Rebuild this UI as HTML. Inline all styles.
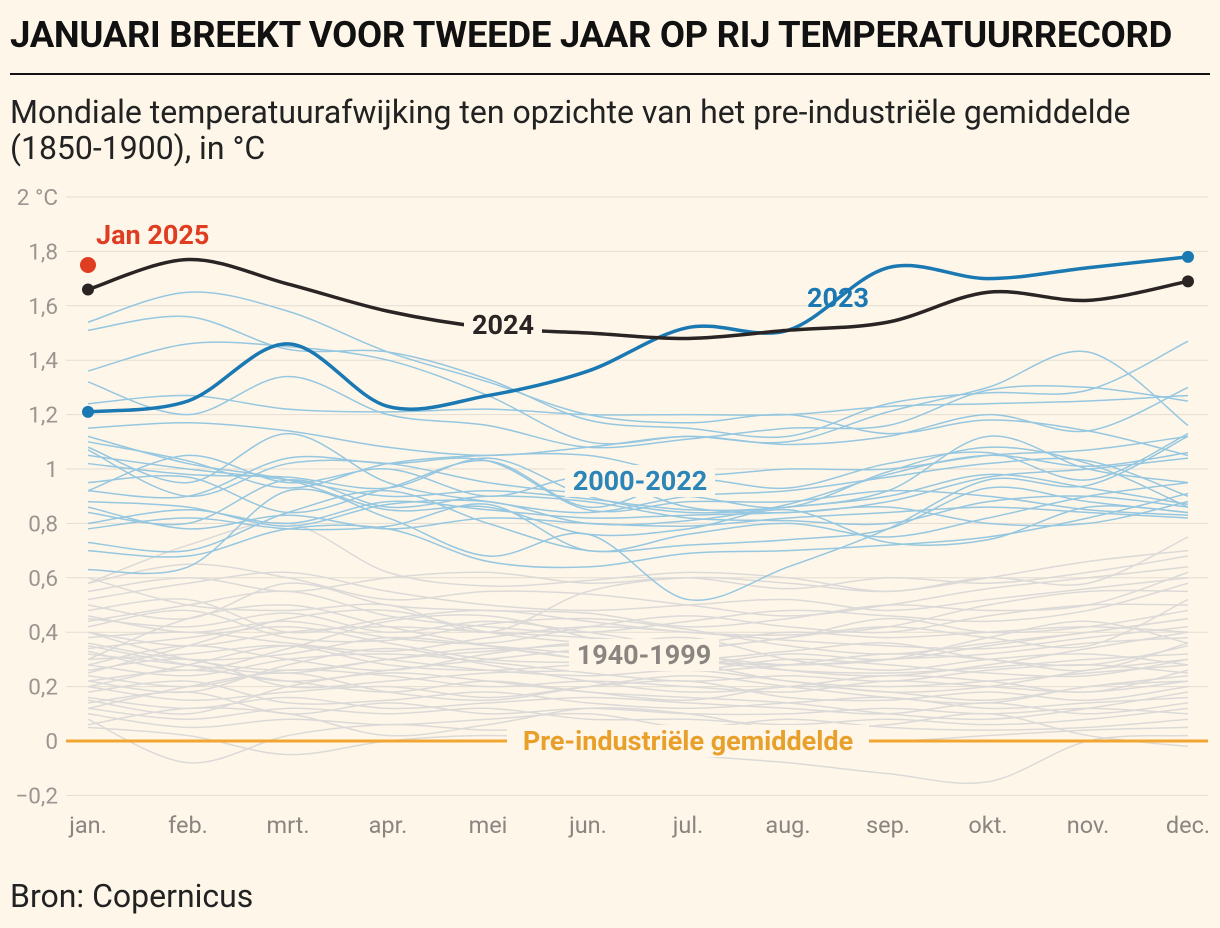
<!DOCTYPE html>
<html><head><meta charset="utf-8">
<style>
body{margin:0;background:#fef6e9;font-family:"Roboto","Liberation Sans",sans-serif;}
#wrap{position:relative;width:1220px;height:928px;overflow:hidden;background:#fef6e9}
h1{position:absolute;left:10px;top:13px;margin:0;font-size:36.5px;font-weight:700;color:#111;letter-spacing:-0.3px;white-space:nowrap}
#rule{position:absolute;left:10px;top:73px;width:1200px;height:2px;background:#111}
#sub{position:absolute;left:10px;top:94px;margin:0;font-size:32px;line-height:36px;color:#222;width:1200px}
#src{position:absolute;left:10px;top:877px;font-size:32px;color:#222}
svg{position:absolute;left:0;top:0}
</style></head><body>
<div id="wrap">
<h1>JANUARI BREEKT VOOR TWEEDE JAAR OP RIJ TEMPERATUURRECORD</h1>
<div id="rule"></div>
<p id="sub">Mondiale temperatuurafwijking ten opzichte van het pre-industriële gemiddelde (1850-1900), in °C</p>
<svg id="chart" width="1220" height="928"></svg>
<div id="src">Bron: Copernicus</div>
</div>
<script>
const months=["jan.","feb.","mrt.","apr.","mei","jun.","jul.","aug.","sep.","okt.","nov.","dec."];
const yTicks=[2,1.8,1.6,1.4,1.2,1,0.8,0.6,0.4,0.2,0,-0.2];
const s2024=[1.66,1.77,1.68,1.58,1.52,1.50,1.48,1.51,1.54,1.65,1.62,1.69];
const s2023=[1.21,1.25,1.46,1.23,1.27,1.36,1.52,1.51,1.74,1.70,1.74,1.78];
const jan2025=[1.75];
const blue=[
[1.54,1.65,1.58,1.43,1.32,1.20,1.17,1.20,1.13,1.18,1.14,1.05],
[1.51,1.56,1.44,1.43,1.33,1.18,1.15,1.12,1.24,1.28,1.29,1.47],
[1.36,1.46,1.45,1.40,1.27,1.10,1.12,1.10,1.21,1.30,1.43,1.16],
[1.32,1.20,1.34,1.20,1.16,1.08,1.11,1.15,1.16,1.29,1.30,1.25],
[1.24,1.27,1.22,1.21,1.22,1.20,1.20,1.20,1.23,1.24,1.25,1.27],
[1.15,1.17,1.14,1.08,1.05,1.08,1.12,1.09,1.12,1.20,1.14,1.30],
[1.10,1.03,0.93,1.02,1.05,1.05,0.98,1.00,1.00,1.05,1.07,1.12],
[1.08,0.95,1.13,0.95,0.88,0.84,0.90,0.92,0.97,1.02,1.03,0.90],
[1.05,1.00,0.96,0.90,0.92,0.89,0.85,0.86,0.92,1.12,1.00,0.95],
[1.02,0.98,0.97,0.93,1.04,0.90,0.84,0.86,0.90,0.98,0.93,0.87],
[0.92,1.05,0.95,1.00,0.90,0.97,0.86,0.84,0.88,0.97,1.00,1.04],
[0.92,0.90,1.04,1.02,1.03,0.85,0.88,0.88,0.92,0.90,0.85,0.83],
[0.86,0.78,0.83,0.78,0.82,0.80,0.79,0.82,0.84,0.86,0.84,0.82],
[0.84,0.80,0.96,0.86,0.90,0.88,0.82,0.81,0.80,0.88,0.90,0.86],
[0.80,0.85,0.80,0.88,0.85,0.82,0.83,0.84,0.86,0.80,0.80,0.88],
[0.78,0.82,0.78,0.79,0.87,0.70,0.76,0.80,0.75,0.82,0.90,0.95],
[0.73,0.70,0.84,0.92,0.80,0.70,0.72,0.74,0.78,0.93,0.88,0.84],
[0.70,0.68,0.78,0.78,0.66,0.64,0.69,0.70,0.72,0.75,0.82,0.91],
[0.63,0.64,0.92,0.82,0.68,0.76,0.52,0.64,0.78,0.96,0.94,1.12],
[0.95,0.97,0.84,0.93,1.03,0.86,0.96,0.93,1.02,1.06,0.96,1.13],
[1.07,0.90,1.02,1.02,0.95,0.91,0.90,0.86,0.99,1.08,1.02,0.86],
[0.88,0.86,0.79,0.87,0.88,0.80,0.81,0.87,0.98,1.05,1.01,1.06],
[1.12,1.02,0.96,0.85,0.86,0.76,0.78,0.85,0.73,0.74,0.86,0.84]];
const grey=[
[0.60,0.50,0.48,0.50,0.40,0.55,0.60,0.58,0.55,0.60,0.66,0.70],
[0.58,0.72,0.80,0.62,0.57,0.59,0.62,0.60,0.55,0.60,0.58,0.75],
[0.55,0.60,0.55,0.60,0.62,0.58,0.60,0.56,0.60,0.58,0.62,0.68],
[0.50,0.45,0.58,0.50,0.48,0.47,0.42,0.45,0.50,0.48,0.50,0.62],
[0.48,0.52,0.40,0.45,0.48,0.44,0.40,0.39,0.42,0.50,0.55,0.55],
[0.45,0.42,0.47,0.40,0.44,0.40,0.35,0.38,0.45,0.40,0.42,0.48],
[0.42,0.48,0.38,0.37,0.43,0.45,0.41,0.35,0.32,0.36,0.40,0.45],
[0.40,0.35,0.40,0.42,0.40,0.38,0.36,0.40,0.38,0.40,0.42,0.40],
[0.38,0.40,0.36,0.33,0.38,0.42,0.40,0.37,0.35,0.34,0.38,0.42],
[0.36,0.30,0.32,0.38,0.35,0.32,0.30,0.33,0.36,0.30,0.28,0.35],
[0.34,0.38,0.42,0.36,0.30,0.29,0.31,0.28,0.30,0.32,0.36,0.38],
[0.32,0.28,0.25,0.30,0.33,0.35,0.30,0.26,0.25,0.27,0.30,0.32],
[0.30,0.32,0.35,0.28,0.26,0.28,0.26,0.30,0.28,0.25,0.24,0.30],
[0.28,0.24,0.30,0.32,0.29,0.25,0.22,0.24,0.22,0.26,0.28,0.25],
[0.26,0.30,0.20,0.22,0.25,0.26,0.28,0.22,0.20,0.22,0.25,0.28],
[0.24,0.20,0.26,0.24,0.20,0.22,0.20,0.18,0.22,0.20,0.18,0.22],
[0.22,0.26,0.22,0.18,0.22,0.18,0.15,0.20,0.18,0.15,0.20,0.24],
[0.20,0.15,0.18,0.20,0.16,0.20,0.22,0.16,0.15,0.18,0.15,0.20],
[0.18,0.22,0.14,0.15,0.18,0.14,0.12,0.14,0.16,0.12,0.14,0.16],
[0.16,0.12,0.16,0.12,0.14,0.16,0.14,0.12,0.10,0.14,0.10,0.14],
[0.14,0.18,0.10,0.14,0.10,0.12,0.10,0.10,0.12,0.10,0.12,0.10],
[0.12,0.08,0.12,0.10,0.12,0.08,0.08,0.06,0.08,0.06,0.08,0.12],
[0.10,0.05,0.08,0.06,0.08,0.10,0.05,0.08,0.05,0.04,0.05,0.08],
[0.08,-0.08,0.02,0.06,0.04,0.05,0.03,0.02,0.00,0.02,0.04,0.05],
[0.05,0.02,-0.05,0.00,0.02,0.00,-0.05,-0.08,-0.12,-0.15,0.00,0.02],
[0.30,0.45,0.50,0.42,0.35,0.30,0.28,0.32,0.30,0.35,0.40,0.45],
[0.25,0.35,0.45,0.48,0.40,0.36,0.34,0.38,0.42,0.38,0.35,0.52],
[0.35,0.28,0.22,0.26,0.30,0.34,0.38,0.30,0.26,0.30,0.32,0.28],
[0.44,0.50,0.55,0.46,0.42,0.40,0.44,0.48,0.46,0.44,0.48,0.58],
[0.52,0.58,0.62,0.55,0.50,0.48,0.50,0.52,0.48,0.52,0.56,0.60],
[0.20,0.28,0.35,0.30,0.26,0.24,0.26,0.22,0.18,0.20,0.26,0.30],
[0.15,0.10,0.20,0.25,0.22,0.18,0.16,0.14,0.10,0.08,0.12,0.18],
[0.40,0.30,0.26,0.30,0.34,0.30,0.26,0.28,0.32,0.30,0.26,0.36],
[0.28,0.35,0.30,0.26,0.32,0.36,0.32,0.26,0.24,0.28,0.34,0.40],
[0.58,0.65,0.60,0.52,0.55,0.54,0.50,0.46,0.50,0.56,0.60,0.64],
[0.22,0.18,0.28,0.34,0.28,0.22,0.18,0.20,0.24,0.22,0.18,0.26],
[0.33,0.26,0.34,0.44,0.46,0.38,0.30,0.28,0.30,0.38,0.44,0.36],
[0.12,0.20,0.25,0.18,0.15,0.20,0.24,0.20,0.16,0.14,0.20,0.22],
[0.46,0.40,0.44,0.38,0.36,0.42,0.46,0.42,0.40,0.46,0.50,0.50],
[0.06,0.12,0.10,0.02,0.06,0.12,0.10,0.04,0.06,0.10,0.02,-0.02]];
const svg=document.getElementById('chart');
const NS='http://www.w3.org/2000/svg';
const X0=88,XS=100,Y0=741,YS=272;
const xs=i=>X0+i*XS, ys=v=>Y0-v*YS;
function mk(t,a){const e=document.createElementNS(NS,t);for(const k in a)e.setAttribute(k,a[k]);svg.appendChild(e);return e;}
function path(d){let p=d.map((v,i)=>[xs(i),ys(v)]);let s=`M${p[0][0]},${p[0][1]}`;
for(let i=0;i<p.length-1;i++){const a=p[Math.max(0,i-1)],b=p[i],c=p[i+1],e=p[Math.min(p.length-1,i+2)];
s+=`C${b[0]+(c[0]-a[0])/6},${b[1]+(c[1]-a[1])/6} ${c[0]-(e[0]-b[0])/6},${c[1]-(e[1]-b[1])/6} ${c[0]},${c[1]}`;}return s;}
yTicks.forEach(t=>{
 const g=mk('line',{x1:66,x2:1208,y1:ys(t),y2:ys(t),stroke:'#e3ddd2','stroke-width':1});
 
 const l=mk('text',{x:58,y:ys(t)+8,'text-anchor':'end','font-size':22.5,fill:'#9a9590'});
 l.textContent=t===2?'2 °C':(t<0?'−':'')+String(Math.abs(t)).replace('.',',');
 
});
months.forEach((m,i)=>{const l=mk('text',{x:xs(i),y:833,'text-anchor':'middle','font-size':23.5,fill:'#8a8580'});l.textContent=m;
 });
grey.forEach(d=>{const p=mk('path',{d:path(d),fill:'none',stroke:'#dcdad8','stroke-width':1.5});
 });
blue.forEach(d=>{const p=mk('path',{d:path(d),fill:'none',stroke:'#96c7e0','stroke-width':1.5});
 });
const z=mk('line',{x1:66,x2:1208,y1:ys(0),y2:ys(0),stroke:'#f2a632','stroke-width':3});

function lbl(x,y,t,c,name,bg){if(bg){const r=mk('rect',{x:x-bg/2,y:y-25,width:bg,height:32,fill:'#fef6e9'});}
 const e=mk('text',{x:x,y:y,'text-anchor':'middle','font-size':27,'font-weight':700,fill:c});e.textContent=t;
 }
lbl(644,664,'1940-1999','#8a8580','label-1940-1999',150);
lbl(640,490,'2000-2022','#2b85b8','label-2000-2022',150);
lbl(688,750,'Pre-industriële gemiddelde','#e8a02a','label-pre-industrial',362);
const p23=mk('path',{d:path(s2023),fill:'none',stroke:'#1a78b2','stroke-width':3.5});

const p24=mk('path',{d:path(s2024),fill:'none',stroke:'#2a2524','stroke-width':3.5});

lbl(503,334,'2024','#2a2524','label-2024',78);
lbl(838,307,'2023','#1a78b2','label-2023',0);
[[0,s2023,'#1a78b2'],[11,s2023,'#1a78b2'],[0,s2024,'#2a2524'],[11,s2024,'#2a2524']].forEach(([i,s,c])=>{
 const d=mk('circle',{cx:xs(i),cy:ys(s[i]),r:6,fill:c});});
const r=mk('circle',{cx:xs(0),cy:ys(jan2025[0]),r:8,fill:'#e03c22'});

const jt=mk('text',{x:96,y:244,'font-size':27,'font-weight':700,fill:'#e03c22'});jt.textContent='Jan 2025';

</script>
</body></html>
